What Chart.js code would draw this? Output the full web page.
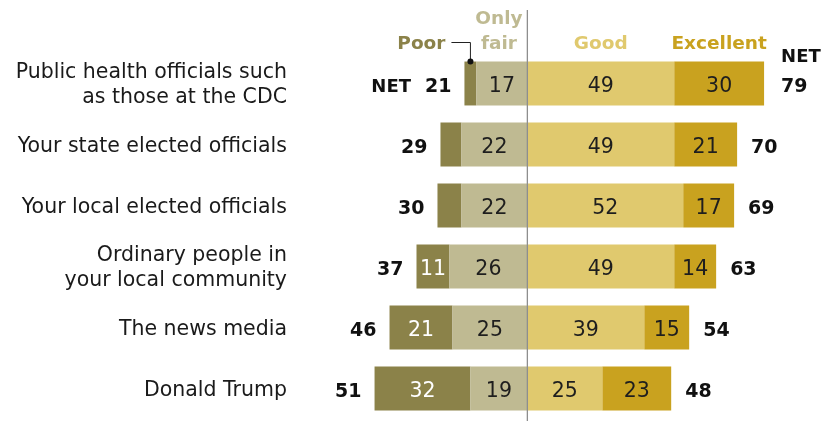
<!DOCTYPE html>
<html>
<head>
<meta charset="utf-8">
<script src="https://cdn.jsdelivr.net/npm/chart.js@4"></script>
<style>
  html, body { margin: 0; padding: 0; background: #fff; }
  #wrap { width: 830px; height: 423px; }
</style>
</head>
<body>
<div id="wrap"><canvas id="chart" width="830" height="423"></canvas></div>
<script>
// data
const categories = [
  ["Public health officials such", "as those at the CDC"],
  ["Your state elected officials"],
  ["Your local elected officials"],
  ["Ordinary people in", "your local community"],
  ["The news media"],
  ["Donald Trump"],
];
const poor = [4, 7, 8, 11, 21, 32];
const onlyFair = [17, 22, 22, 26, 25, 19];
const good = [49, 49, 52, 49, 39, 25];
const excellent = [30, 21, 17, 14, 15, 23];
const netNegative = [21, 29, 30, 37, 46, 51];
const netPositive = [79, 70, 69, 63, 54, 48];

const COLORS = {
  poor: "#8b8249",
  fair: "#bfba92",
  good: "#e0c96e",
  excellent: "#c9a21f",
};
const FONT = '"DejaVu Sans", sans-serif';

const overlayPlugin = {
  id: "overlay",
  afterDatasetsDraw(chart) {
    const ctx = chart.ctx;
    const xs = chart.scales.x;
    const ys = chart.scales.y;
    const zero = xs.getPixelForValue(0);

    ctx.save();

    // center divider
    ctx.strokeStyle = "#8e8e8e";
    ctx.lineWidth = 1.3;
    ctx.beginPath();
    ctx.moveTo(zero, 10);
    ctx.lineTo(zero, 421);
    ctx.stroke();

    // values inside segments
    ctx.font = "20.5px " + FONT;
    ctx.textAlign = "center";
    ctx.textBaseline = "alphabetic";
    chart.data.datasets.forEach((ds, di) => {
      chart.getDatasetMeta(di).data.forEach((el, i) => {
        const v = Math.abs(ds.data[i]);
        if (v < 10) return;
        const p = el.getProps(["x", "base", "y"], true);
        ctx.fillStyle = ds.key === "poor" ? "#ffffff" : "#1e1e1e";
        ctx.fillText(String(v), (p.x + p.base) / 2, p.y + 8);
      });
    });

    // category labels
    ctx.font = "20.5px " + FONT;
    ctx.textAlign = "right";
    ctx.fillStyle = "#1a1a1a";
    categories.forEach((lines, i) => {
      const cy = ys.getPixelForValue(i);
      lines.forEach((line, li) => {
        const off = (li - (lines.length - 1) / 2) * 25;
        ctx.fillText(line, 287, cy + off + 7);
      });
    });

    // NET numbers
    ctx.font = "bold 19px " + FONT;
    ctx.fillStyle = "#111";
    netNegative.forEach((v, i) => {
      const cy = ys.getPixelForValue(i) + 8;
      const xl = xs.getPixelForValue(-v) - 13;
      ctx.textAlign = "right";
      ctx.fillText(String(v), xl, cy);
      if (i === 0) {
        const w = ctx.measureText(String(v)).width;
        ctx.font = "bold 18px " + FONT;
        ctx.fillText("NET", xl - w - 14, cy);
        ctx.font = "bold 19px " + FONT;
      }
    });
    netPositive.forEach((v, i) => {
      const cy = ys.getPixelForValue(i) + 8;
      const xr = xs.getPixelForValue(v) + 14;
      ctx.textAlign = "left";
      ctx.fillText(String(v), i === 0 ? xr + 3 : xr, cy);
      if (i === 0) {
        ctx.font = "bold 18px " + FONT;
        ctx.fillText("NET", xr + 3, 62);
        ctx.font = "bold 19px " + FONT;
      }
    });

    // column headers over the first row
    const seg = (di) => chart.getDatasetMeta(di).data[0].getProps(["x", "base", "y", "height"], true);
    ctx.font = "bold 18.5px " + FONT;
    ctx.textAlign = "center";

    const f = seg(0);
    ctx.fillStyle = COLORS.fair;
    ctx.fillText("Only", (f.x + f.base) / 2 - 3, 24);
    ctx.fillText("fair", (f.x + f.base) / 2 - 3, 49);

    const g = seg(2);
    ctx.fillStyle = COLORS.good;
    ctx.fillText("Good", (g.x + g.base) / 2, 49);

    const e = seg(3);
    ctx.fillStyle = COLORS.excellent;
    ctx.fillText("Excellent", (e.x + e.base) / 2, 49);

    // Poor callout
    const p = seg(1);
    const dotX = (p.x + p.base) / 2;
    const dotY = p.y - p.height / 2;
    ctx.strokeStyle = "#222";
    ctx.lineWidth = 1;
    ctx.beginPath();
    ctx.moveTo(dotX - 19, 42.5);
    ctx.lineTo(dotX, 42.5);
    ctx.lineTo(dotX, dotY);
    ctx.stroke();
    ctx.fillStyle = "#111";
    ctx.beginPath();
    ctx.arc(dotX, dotY, 3, 0, Math.PI * 2);
    ctx.fill();
    ctx.fillStyle = COLORS.poor;
    ctx.textAlign = "right";
    ctx.fillText("Poor", dotX - 25, 49);

    ctx.restore();
  },
};

const ctx = document.getElementById("chart").getContext("2d");
new Chart(ctx, {
  type: "bar",
  data: {
    labels: categories,
    datasets: [
      { key: "fair", label: "Only fair", data: onlyFair.map((v) => -v), backgroundColor: COLORS.fair },
      { key: "poor", label: "Poor", data: poor.map((v) => -v), backgroundColor: COLORS.poor },
      { key: "good", label: "Good", data: good, backgroundColor: COLORS.good },
      { key: "excellent", label: "Excellent", data: excellent, backgroundColor: COLORS.excellent },
    ],
  },
  options: {
    indexAxis: "y",
    responsive: false,
    animation: false,
    layout: { padding: { top: 53, bottom: 4, left: 0, right: 0 } },
    datasets: { bar: { barPercentage: 0.72, categoryPercentage: 1, borderWidth: 0 } },
    scales: {
      x: { stacked: true, display: false, min: -176, max: 101 },
      y: { stacked: true, display: false },
    },
    plugins: {
      legend: { display: false },
      tooltip: { enabled: false },
    },
  },
  plugins: [overlayPlugin],
});
</script>
</body>
</html>
